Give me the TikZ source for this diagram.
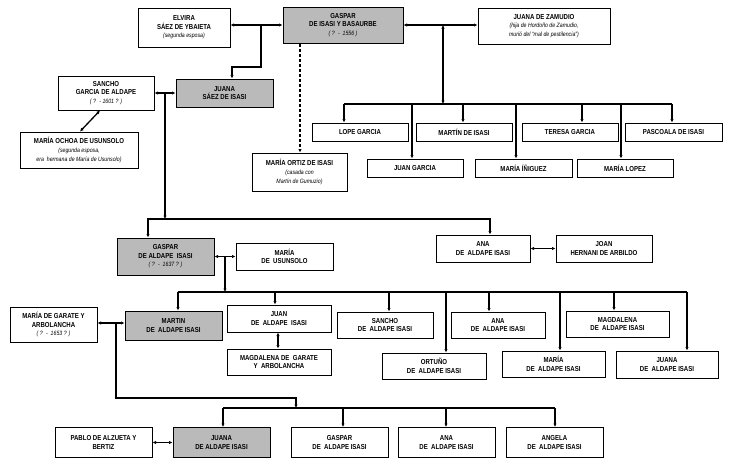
\documentclass[tikz,border=0pt]{standalone}
\usepackage{fontspec}
\setmainfont{Liberation Sans}[FakeStretch=0.84, BoldFont={Liberation Sans Bold}, ItalicFont={Liberation Sans Italic}]
\usetikzlibrary{arrows.meta}
\newcommand{\subtxt}[1]{{\fontsize{6.2}{7.2}\selectfont\mdseries\itshape #1}}
\begin{document}
\begin{tikzpicture}[x=1pt,y=-1pt,
    person/.style={draw, line width=1pt, fill=white, align=center, inner sep=1pt,
        font=\fontsize{7.2}{8.6}\selectfont\bfseries},
    main/.style={person, fill=black!27},
    link/.style={line width=1.3pt},
    >={Latex[length=3.5pt,width=3.5pt]}]
        \useasboundingbox (0,0) rectangle (732,466);

        % primera generacion
        \node[person, minimum width=92, minimum height=39] (elvira) at (184, 27.5) {ELVIRA\\SÁEZ DE YBAIETA\\\subtxt{(segunda esposa)}};
        \node[main, minimum width=120, minimum height=36] (gaspar) at (343, 25) {GASPAR\\DE ISASI Y BASAURBE\\\subtxt{( ? \ - \ 1556 )}};
        \node[person, minimum width=132, minimum height=36] (zamudio) at (544, 26) {JUANA DE ZAMUDIO\\\subtxt{(hija de Hordoño de Zamudio,}\\\subtxt{murió del “mal de pestilencia”)}};

        \node[main, minimum width=97, minimum height=28] (juanasaez) at (224.5, 93) {JUANA\\SÁEZ DE ISASI};
        \node[person, minimum width=96, minimum height=34] (sancho) at (106, 93) {SANCHO\\GARCIA DE ALDAPE\\\subtxt{( ? \ - 1601 ? )}};
        \node[person, minimum width=118, minimum height=36] (ochoa) at (79, 150) {MARÍA OCHOA DE USUNSOLO\\\subtxt{(segunda esposa,}\\\subtxt{era \ hermana de María de Usunsolo)}};
        \node[person, minimum width=95, minimum height=38] (ortiz) at (299.5, 172) {MARÍA ORTIZ DE ISASI\\\subtxt{(casada con}\\\subtxt{Martín de Gumuzio)}};

        \node[person, minimum width=96, minimum height=18] (lope) at (360, 132) {LOPE GARCIA};
        \node[person, minimum width=96, minimum height=18] (martinisasi) at (464, 132) {MARTÍN DE ISASI};
        \node[person, minimum width=96, minimum height=18] (teresa) at (570, 132) {TERESA GARCIA};
        \node[person, minimum width=97, minimum height=18] (pascoala) at (673.5, 132) {PASCOALA DE ISASI};
        \node[person, minimum width=96, minimum height=18] (juangarcia) at (415, 168) {JUAN GARCIA};
        \node[person, minimum width=97, minimum height=18] (iniguez) at (523.5, 168) {MARÍA ÍÑIGUEZ};
        \node[person, minimum width=96, minimum height=18] (lopez) at (625, 168) {MARÍA LOPEZ};

        % segunda generacion
        \node[main, minimum width=97, minimum height=37] (gaspar2) at (165.5, 256.5) {GASPAR\\DE ALDAPE \ ISASI\\\subtxt{( ? \ - \ 1637 ? )}};
        \node[person, minimum width=97, minimum height=27] (usunsolo) at (284.5, 256.5) {MARÍA\\DE \ USUNSOLO};
        \node[person, minimum width=94, minimum height=27] (ana) at (483, 248.5) {ANA\\DE \ ALDAPE ISASI};
        \node[person, minimum width=96, minimum height=27] (joan) at (604, 248.5) {JOAN\\HERNANI DE ARBILDO};

        % tercera generacion
        \node[person, minimum width=87, minimum height=35] (garate) at (53.5, 324.5) {MARÍA DE GARATE Y\\ARBOLANCHA\\\subtxt{( ? \ - \ 1653 ? )}};
        \node[main, minimum width=97, minimum height=29] (martin) at (173.5, 325.5) {MARTIN\\DE \ ALDAPE ISASI};
        \node[person, minimum width=104, minimum height=27] (juan) at (279, 318.5) {JUAN\\DE \ ALDAPE \ ISASI};
        \node[person, minimum width=104, minimum height=26] (magdagarate) at (279, 362) {MAGDALENA DE \ GARATE\\Y \ ARBOLANCHA};
        \node[person, minimum width=96, minimum height=26] (sancho2) at (385, 325) {SANCHO\\DE \ ALDAPE ISASI};
        \node[person, minimum width=94, minimum height=26] (ana2) at (498, 325) {ANA\\DE \ ALDAPE ISASI};
        \node[person, minimum width=103, minimum height=26] (magdalena) at (617.5, 324) {MAGDALENA\\DE \ ALDAPE ISASI};
        \node[person, minimum width=104, minimum height=26] (ortuno) at (434, 366) {ORTUÑO\\DE \ ALDAPE ISASI};
        \node[person, minimum width=103, minimum height=26] (maria) at (553.5, 364) {MARÍA\\DE \ ALDAPE ISASI};
        \node[person, minimum width=102, minimum height=27] (juana) at (667, 364.5) {JUANA\\DE \ ALDAPE ISASI};

        % cuarta generacion
        \node[person, minimum width=97, minimum height=30] (pablo) at (103.5, 442.5) {PABLO DE ALZUETA Y\\BERTIZ};
        \node[main, minimum width=97, minimum height=30] (juana3) at (221.5, 442.5) {JUANA\\DE ALDAPE ISASI};
        \node[person, minimum width=97, minimum height=30] (gaspar3) at (339.5, 442.5) {GASPAR\\DE \ ALDAPE ISASI};
        \node[person, minimum width=97, minimum height=30] (ana3) at (446.5, 442.5) {ANA\\DE \ ALDAPE ISASI};
        \node[person, minimum width=97, minimum height=30] (angela) at (554.5, 442.5) {ANGELA\\DE \ ALDAPE ISASI};

        % puntos de union
        \coordinate (e1) at (261, 25);
        \coordinate (z1) at (443, 25);
        \coordinate (s1) at (165, 93);
        \coordinate (g2) at (225, 256.5);
        \coordinate (m3) at (116, 323);
        \coordinate (b1) at (443, 104);
        \coordinate (b2) at (165, 219);
        \coordinate (b3) at (225, 292);
        \coordinate (b4) at (296, 408);

        % matrimonios
        \draw[link, <->] (elvira.east |- gaspar.west) -- (gaspar.west);
        \draw[link, <->] (gaspar.east) -- (zamudio.west |- gaspar.east);
        \draw[link, <->] (sancho.east |- juanasaez.west) -- (juanasaez.west);
        \draw[link, <->] (sancho.south -| 100, 0) -- (ochoa.north -| 80, 0);
        \draw[link, <->] (gaspar2.east |- g2) -- (usunsolo.west |- g2);
        \draw[link, <->] (ana.east) -- (joan.west);
        \draw[link, <->] (garate.east |- m3) -- (martin.west |- m3);
        \draw[link, <->] (juan.south -| 278, 0) -- (magdagarate.north -| 278, 0);
        \draw[link, <->] (pablo.east) -- (juana3.west);

        % hijos
        \draw[link, ->] (e1) -- (261, 67) -| (juanasaez.north -| 232, 0);
        \draw[link, dash pattern=on 3pt off 2pt, ->] (gaspar.south -| 300, 0) -- (ortiz.north -| 300, 0);
        \draw[link, <->] (z1) -- (b1);
        \draw[link] (344, 104) -- (672, 104);
        \draw[link, ->] (344, 104) -- (lope.north -| 344, 0);
        \draw[link, ->] (463, 104) -- (martinisasi.north -| 463, 0);
        \draw[link, ->] (582, 104) -- (teresa.north -| 582, 0);
        \draw[link, ->] (672, 104) -- (pascoala.north -| 672, 0);
        \draw[link, ->] (412, 104) -- (juangarcia.north -| 412, 0);
        \draw[link, ->] (516, 104) -- (iniguez.north -| 516, 0);
        \draw[link, ->] (621, 104) -- (lopez.north -| 621, 0);

        \draw[link, ->] (s1) -- (b2);
        \draw[link, ->] (b2) -| (gaspar2.north -| 148, 0);
        \draw[link, ->] (b2) -| (ana.north -| 490, 0);

        \draw[link, ->] (g2) -- (b3);
        \draw[link] (178, 292) -- (687, 292);
        \draw[link, ->] (178, 292) -- (martin.north -| 178, 0);
        \draw[link, ->] (275, 292) -- (juan.north -| 275, 0);
        \draw[link, ->] (389, 292) -- (sancho2.north -| 389, 0);
        \draw[link, ->] (489, 292) -- (ana2.north -| 489, 0);
        \draw[link, ->] (614, 292) -- (magdalena.north -| 614, 0);
        \draw[link, ->] (446, 292) -- (ortuno.north -| 446, 0);
        \draw[link, ->] (560, 292) -- (maria.north -| 560, 0);
        \draw[link, ->] (687, 292) -- (juana.north -| 687, 0);

        \draw[link, ->] (m3) -- (116, 398) -| (b4);
        \draw[link] (223, 408) -- (555, 408);
        \draw[link, ->] (223, 408) -- (juana3.north -| 223, 0);
        \draw[link, ->] (343, 408) -- (gaspar3.north -| 343, 0);
        \draw[link, ->] (446, 408) -- (ana3.north -| 446, 0);
        \draw[link, ->] (555, 408) -- (angela.north -| 555, 0);
\end{tikzpicture}
\end{document}
